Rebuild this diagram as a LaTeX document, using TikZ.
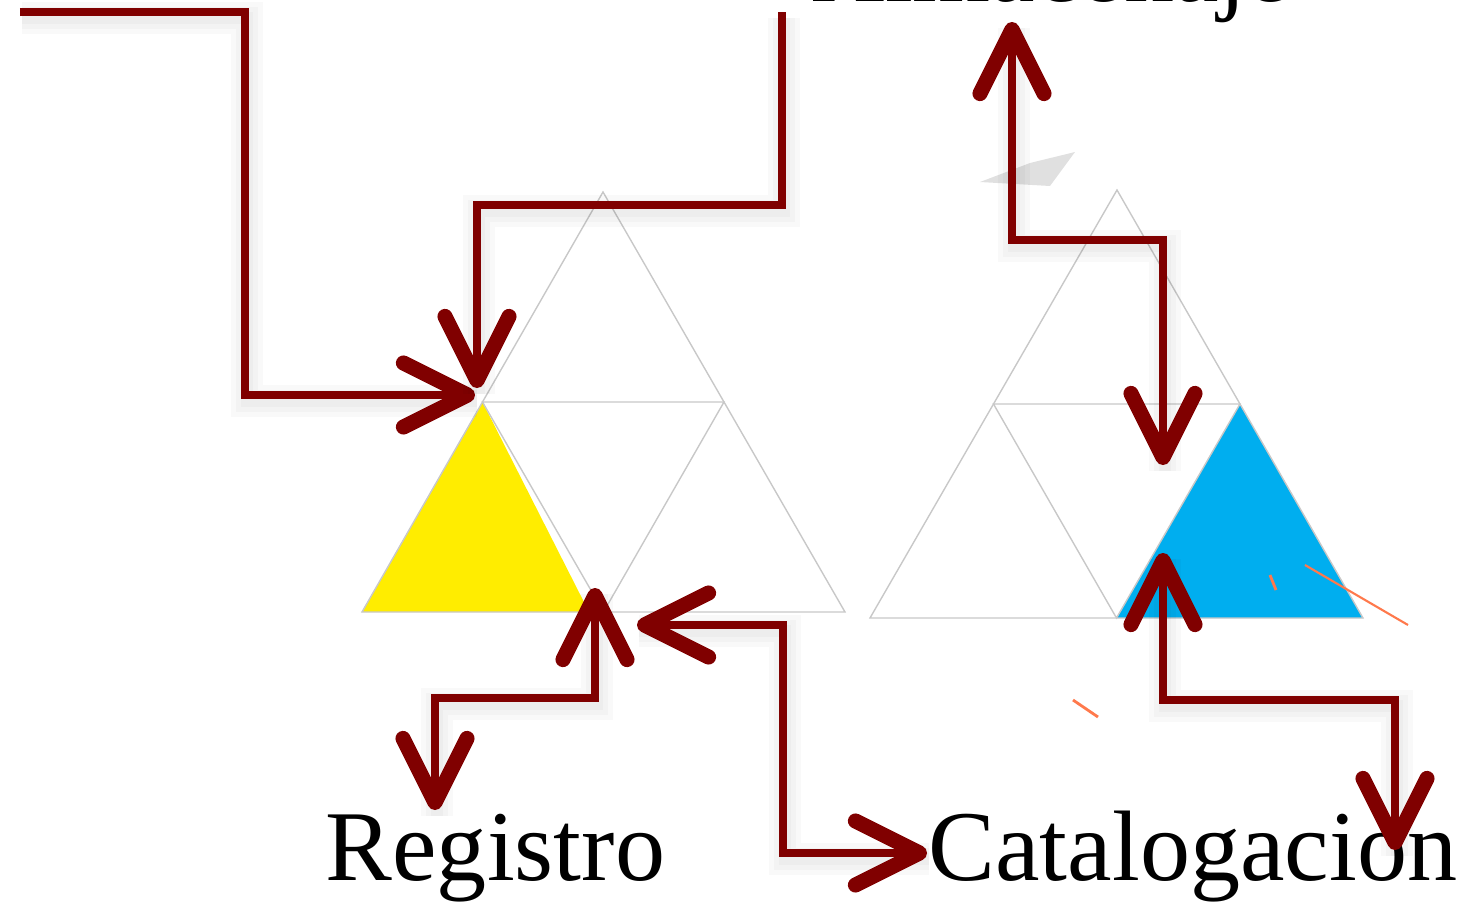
\documentclass[tikz,border=0pt]{standalone}
\usepackage{fontspec}
\setmainfont{Liberation Serif}
\usepackage{tikz}
\usetikzlibrary{calc,arrows.meta}
\definecolor{arrowred}{RGB}{128,0,0}
\definecolor{gridgray}{RGB}{200,200,200}
\definecolor{fillyellow}{RGB}{255,237,0}
\definecolor{fillblue}{RGB}{0,174,239}
\tikzset{
	flow/.style={draw=arrowred, line width=0.08cm},
	haze/.style={draw=black, opacity=0.025, transform canvas={shift={(0.02,-0.06)}}},
	grid/.style={draw=gridgray, line width=0.4pt},
	label/.style={inner sep=0pt, font=\fontsize{28.5}{34}\selectfont}
}
\def\link[#1]#2;{%
	\foreach \w in {0.12,0.22,0.32} \draw[haze, line width=\w cm] #2;
	\draw[flow,#1] #2;}

\begin{document}
\begin{tikzpicture}[>={Straight Barb[length=0.64cm, width=0.64cm, line width=4.3pt, round]}]
			%%%%% START %%%%%
			\useasboundingbox (0, 0) rectangle (14.68, 9.08);
			
			% left triangle
			\coordinate (a1) at (3.62, 2.96);
			\coordinate (a2) at (8.45, 2.96);
			\coordinate (a3) at (6.03, 7.16);
			\coordinate (a13) at ($(a1)!0.5!(a3)$);
			\coordinate (a23) at ($(a2)!0.5!(a3)$);
			\coordinate (a12) at ($(a1)!0.5!(a2)$);
			\fill[fillyellow] (a1) -- (a13) -- ($(a1)!0.47!(a2)$) -- cycle;
			\draw[grid] (a1) -- (a2) -- (a3) -- cycle;
			\draw[grid] (a13) -- (a23) -- (a12) -- cycle;
			
			% right triangle
			\coordinate (b1) at (8.70, 2.90);
			\coordinate (b2) at (13.63, 2.90);
			\coordinate (b3) at (11.17, 7.18);
			\coordinate (b13) at ($(b1)!0.5!(b3)$);
			\coordinate (b23) at ($(b2)!0.5!(b3)$);
			\coordinate (b12) at ($(b1)!0.5!(b2)$);
			\fill[fillblue] (b12) -- (b23) -- (b2) -- cycle;
			\draw[grid] (b1) -- (b2) -- (b3) -- cycle;
			\draw[grid] (b13) -- (b23) -- (b12) -- cycle;
			
			% stray marks
			\fill[black!12] (9.80, 7.26) -- (10.30, 7.45) -- (10.75, 7.56) -- (10.50, 7.22) -- cycle;
			\draw[red!50!orange!70, line width=0.6pt] (13.05, 3.43) -- (14.08, 2.83);
			\draw[red!50!orange!70, line width=0.8pt] (12.70, 3.33) -- (12.76, 3.18);
			\draw[red!50!orange!70, line width=0.8pt] (10.73, 2.08) -- (10.98, 1.91);
			
			% labels
			\node[label, anchor=base west] (reg) at (3.25, 0.28) {Registro};
			\node[label, anchor=base west] (cat) at (9.28, 0.28) {Catalogacion};
			\node[label, anchor=base west] (alm) at (8.12, 9.07) {Almacenaje};
			
			% arrow ends and bends
			\coordinate (s1) at (0.20, 8.96);
			\coordinate (k1) at (2.45, 5.13);
			\coordinate (t1) at (4.75, 5.13);
			\coordinate (s2) at (7.82, 8.96);
			\coordinate (k2) at (4.77, 7.03);
			\coordinate (t2) at (4.77, 5.20);
			\coordinate (t3) at (5.95, 3.20);
			\coordinate (k3) at (4.35, 2.10);
			\coordinate (r3) at (4.35, 0.98);
			\coordinate (t4) at (6.37, 2.83);
			\coordinate (k4) at (7.83, 0.55);
			\coordinate (c4) at (9.27, 0.55);
			\coordinate (t5) at (10.12, 8.86);
			\coordinate (k5) at (11.63, 6.68);
			\coordinate (t6) at (11.63, 4.43);
			\coordinate (t7) at (11.63, 3.55);
			\coordinate (k7) at (13.95, 2.08);
			\coordinate (c7) at (13.95, 0.58);
			
			% arrows
			\link[->] (s1) -| (k1) -- (t1);
			\link[->] (s2) |- (k2) -- (t2);
			\link[<->] (t3) |- (k3) -- (r3);
			\link[<->] (t4) -| (k4) -- (c4);
			\link[<->] (t5) |- (k5) -- (t6);
			\link[<->] (t7) |- (k7) -- (c7);
			%%%%% END %%%%%
\end{tikzpicture}
\end{document}
